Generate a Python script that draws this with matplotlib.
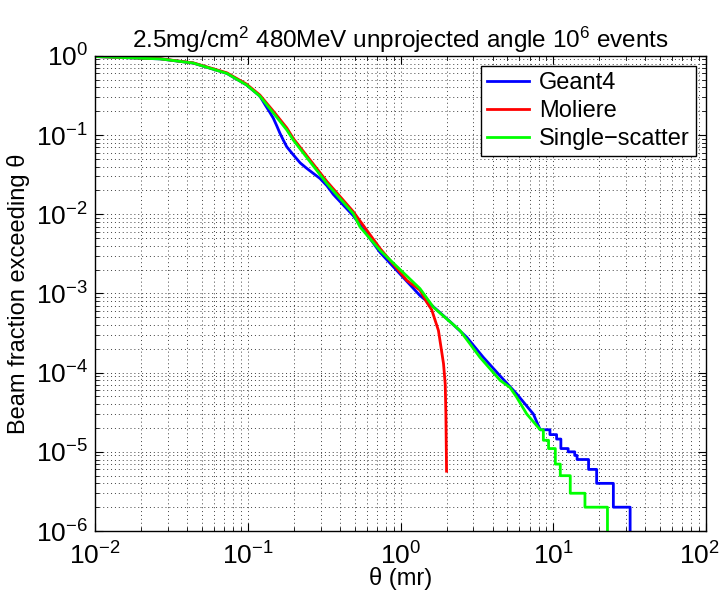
import matplotlib
matplotlib.use('Agg')
import matplotlib.pyplot as plt
import matplotlib.transforms as mtransforms
import numpy as np

plt.rcParams['font.family'] = ['Liberation Sans', 'DejaVu Sans']
plt.rcParams['mathtext.fontset'] = 'custom'
plt.rcParams['mathtext.rm'] = 'Liberation Sans'
plt.rcParams['mathtext.it'] = 'Liberation Sans'
plt.rcParams['mathtext.default'] = 'regular'

# Geant4 (blue)
g4_theta = [0.01, 0.0267, 0.044, 0.073, 0.098, 0.12, 0.13, 0.138, 0.147, 0.155, 0.1625, 0.171, 0.18,
            0.199, 0.22, 0.243, 0.269, 0.297, 0.329, 0.363, 0.49, 0.734, 1.34, 1.56, 2.11, 2.71,
            3.48, 4.48, 5.75, 7.4, 8.2,
            9.5, 9.5, 10.5, 10.5, 11.2, 11.2, 12.5, 12.5, 13.8, 13.8, 14.3, 14.3,
            17.0, 17.0, 19.2, 19.2, 24.7, 24.7, 31.8, 31.8]
g4_frac = [0.98, 0.915, 0.81, 0.60, 0.43, 0.31, 0.24, 0.2, 0.163, 0.13, 0.105, 0.086, 0.071,
           0.056, 0.0446, 0.038, 0.0327, 0.0283, 0.0230, 0.0178, 0.0096, 0.0033, 9.4e-4, 7.4e-4, 4.4e-4, 2.8e-4,
           1.56e-4, 9.1e-5, 5.4e-5, 3e-5, 1.9e-5,
           1.9e-5, 1.65e-5, 1.65e-5, 1.45e-5, 1.45e-5, 1.1e-5, 1.1e-5, 1.0e-5, 1.0e-5, 9e-6, 9e-6, 8e-6,
           8e-6, 6e-6, 6e-6, 4e-6, 4e-6, 2e-6, 2e-6, 1e-7]

# Moliere (red)
mol_theta = [0.01, 0.0267, 0.044, 0.073, 0.098, 0.12, 0.147, 0.18, 0.199, 0.329, 0.49, 0.734,
             1.1, 1.34, 1.48, 1.6, 1.77, 1.91, 1.96, 1.98, 2.0]
mol_frac = [0.98, 0.92, 0.815, 0.61, 0.44, 0.32, 0.2, 0.123, 0.09, 0.026, 0.0108, 0.0037,
            1.46e-3, 1.1e-3, 7.8e-4, 6.2e-4, 3.4e-4, 1.3e-4, 7.2e-5, 3e-5, 5.7e-6]

# Single-scatter (green)
ss_theta = [0.01, 0.0267, 0.044, 0.073, 0.098, 0.12, 0.147, 0.18, 0.199, 0.329, 0.49, 0.543,
            0.734, 1.34, 1.64, 2.45, 3.31, 4.48, 5.2, 5.75, 6.7, 8.2,
            8.6, 8.6, 9.3, 9.3, 10.3, 10.3, 11.1, 11.1, 12.9, 12.9, 16.1, 16.1, 22.6, 22.6]
ss_frac = [0.98, 0.915, 0.81, 0.60, 0.43, 0.31, 0.19, 0.116, 0.086, 0.0245, 0.0102, 0.0069,
           0.0035, 1.15e-3, 6.7e-4, 3.4e-4, 1.56e-4, 8e-5, 6.5e-5, 4.9e-5, 3e-5, 1.9e-5,
           1.9e-5, 1.4e-5, 1.4e-5, 1.1e-5, 1.1e-5, 7e-6, 7e-6, 5e-6, 5e-6, 3e-6, 3e-6, 2e-6, 2e-6, 1e-7]

fig = plt.figure(figsize=(7.25, 5.94), dpi=100)
ax = fig.add_axes([0.131, 0.106, 0.843, 0.800])

ax.loglog(g4_theta, g4_frac, color=(0, 0, 1), lw=2, label='Geant4')
ax.loglog(mol_theta, mol_frac, color=(1, 0, 0), lw=2, label='Moliere')
ax.loglog(ss_theta, ss_frac, color=(0, 1, 0), lw=2, label='Single\u2212scatter')

ax.set_xlim(1e-2, 1e2)
ax.set_ylim(1e-6, 1e0)
ax.set_xticks([1e-2, 1e-1, 1e0, 1e1, 1e2])
ax.set_yticks([1e-6, 1e-5, 1e-4, 1e-3, 1e-2, 1e-1, 1e0])

ax.grid(True, which='both', linestyle=(0, (1, 3)), color='0.25', linewidth=0.7)
ax.tick_params(which='both', direction='in', top=True, right=True, labelsize=19)
ax.tick_params(which='major', length=6, width=0.8, pad=5)
ax.tick_params(axis='x', which='major', pad=8)
ax.tick_params(which='minor', length=3, width=0.6)
for s in ax.spines.values():
    s.set_linewidth(1.0)

# nudge the last x tick label so it stays inside the figure
last = ax.get_xticklabels()[-1]
last.set_transform(last.get_transform() +
                   mtransforms.ScaledTranslation(-5 / 72, 0, fig.dpi_scale_trans))

ax.set_xlabel('\u03b8 (mr)', fontsize=17, labelpad=-2)
ax.set_ylabel('Beam fraction exceeding \u03b8', fontsize=17)
ax.set_title('2.5mg/cm$^2$ 480MeV unprojected angle 10$^6$ events', fontsize=17.5)

leg = ax.legend(loc='upper right', fontsize=17, fancybox=False, framealpha=1,
                edgecolor='k', handlelength=1.8, handletextpad=0.4, borderpad=0.25,
                labelspacing=0.25, borderaxespad=0.45)
leg.get_frame().set_linewidth(1.0)

fig.savefig('out.png', dpi=100)
